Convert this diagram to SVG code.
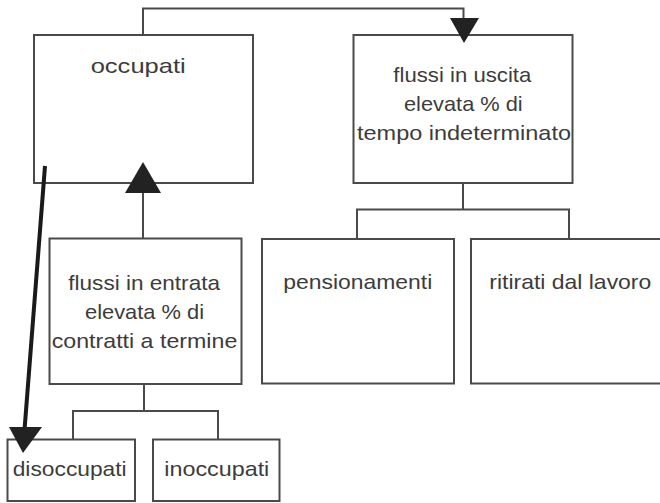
<svg xmlns="http://www.w3.org/2000/svg" width="660" height="503" viewBox="0 0 660 503">
<style>
.box{fill:#fff;stroke:#4a4a4a;stroke-width:2}
.ln{fill:none;stroke:#4a4a4a;stroke-width:2}
.t{font-family:"Liberation Sans",Arial,sans-serif;font-size:21px;fill:#3c3c3c}
.ah{fill:#222}
</style>
<rect width="660" height="503" fill="#fff"/>
<g id="occupati">
<rect class="box" x="34" y="35" width="219" height="148"/>
<text class="t" x="90.7" y="72.7" textLength="95" lengthAdjust="spacingAndGlyphs">occupati</text>
</g>
<g id="uscita">
<rect class="box" x="353.5" y="35" width="219" height="148"/>
<text class="t" x="393.3" y="81.5" textLength="138" lengthAdjust="spacingAndGlyphs">flussi in uscita</text>
<text class="t" x="404" y="110.5" textLength="118.7" lengthAdjust="spacingAndGlyphs">elevata % di</text>
<text class="t" x="357" y="139.5" textLength="214" lengthAdjust="spacingAndGlyphs">tempo indeterminato</text>
</g>
<g id="entrata">
<rect class="box" x="49.5" y="238.5" width="192" height="145.5"/>
<text class="t" x="68.3" y="290" textLength="151.7" lengthAdjust="spacingAndGlyphs">flussi in entrata</text>
<text class="t" x="85" y="319" textLength="119" lengthAdjust="spacingAndGlyphs">elevata % di</text>
<text class="t" x="51.7" y="348" textLength="185.6" lengthAdjust="spacingAndGlyphs">contratti a termine</text>
</g>
<g id="pensionamenti">
<rect class="box" x="262" y="239" width="192" height="144.5"/>
<text class="t" x="283.3" y="288.5" textLength="149" lengthAdjust="spacingAndGlyphs">pensionamenti</text>
</g>
<g id="ritirati">
<rect class="box" x="471" y="239" width="200" height="144.5"/>
<text class="t" x="489.3" y="288.5" textLength="162" lengthAdjust="spacingAndGlyphs">ritirati dal lavoro</text>
</g>
<g id="disoccupati">
<rect class="box" x="7.5" y="439.5" width="127.5" height="61.5"/>
<text class="t" x="12.7" y="476" textLength="114" lengthAdjust="spacingAndGlyphs">disoccupati</text>
</g>
<g id="inoccupati">
<rect class="box" x="153" y="439.5" width="126.5" height="61.5"/>
<text class="t" x="164.3" y="476" textLength="105" lengthAdjust="spacingAndGlyphs">inoccupati</text>
</g>
<g id="connectors">
<polyline class="ln" points="143,35 143,8.5 463.5,8.5 463.5,20"/>
<polygon class="ah" points="450,18 479,18 464,43"/>
<line class="ln" x1="143" y1="192" x2="143" y2="238"/>
<polygon class="ah" points="125,193 161,193 143,162"/>
<line x1="45" y1="166" x2="24.5" y2="430" stroke="#1a1a1a" stroke-width="4"/>
<polygon class="ah" points="9,427 42,427 23,453"/>
<polyline class="ln" points="463,183 463,209.5"/>
<polyline class="ln" points="357,238 357,209.5 569,209.5 569,238"/>
<polyline class="ln" points="144,384 144,411"/>
<polyline class="ln" points="73,439 73,411 218,411 218,439"/>
</g>
</svg>
